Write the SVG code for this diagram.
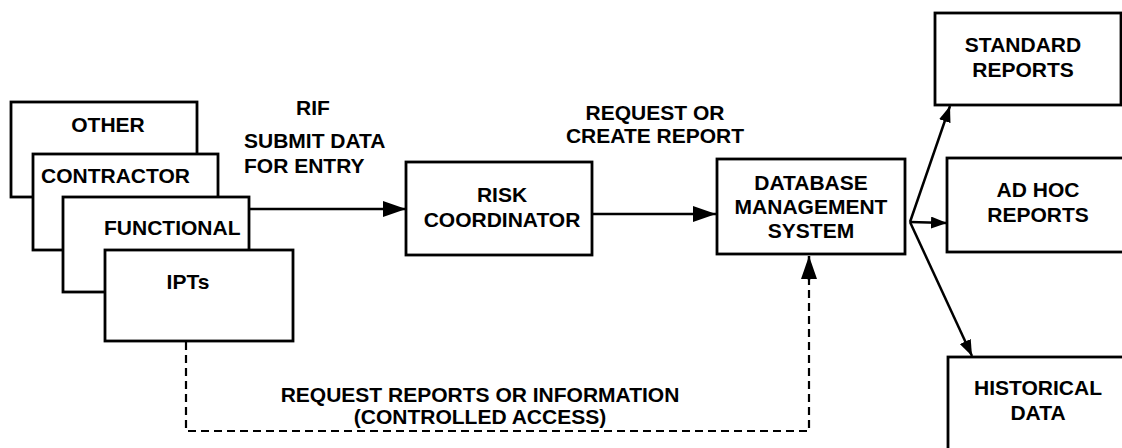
<svg xmlns="http://www.w3.org/2000/svg" width="1122" height="448" viewBox="0 0 1122 448">
<style>
.box{fill:#fff;stroke:#000;stroke-width:2.8}
.t{font-family:"Liberation Sans",Arial,sans-serif;font-weight:bold;font-size:21px;fill:#000}
.c{text-anchor:middle}
.ln{fill:none;stroke:#000;stroke-width:2.5}
.dash{fill:none;stroke:#000;stroke-width:2.2;stroke-dasharray:8 5}
</style>
<defs>
<marker id="big" markerWidth="23" markerHeight="16" refX="23" refY="8" orient="auto" markerUnits="userSpaceOnUse">
<path d="M0,0 L23,8 L0,16 Z" fill="#000"/>
</marker>
<marker id="small" markerWidth="16" markerHeight="12" refX="16" refY="6" orient="auto" markerUnits="userSpaceOnUse">
<path d="M0,0 L16,6 L0,12 Z" fill="#000"/>
</marker>
</defs>
<g id="connectors">
<line class="ln" x1="249" y1="209" x2="406" y2="209" marker-end="url(#big)"/>
<line class="ln" x1="592" y1="214" x2="716" y2="214" marker-end="url(#big)"/>
<line class="ln" x1="910" y1="222" x2="950" y2="106" marker-end="url(#small)"/>
<line class="ln" x1="910" y1="222" x2="947" y2="223" marker-end="url(#small)"/>
<line class="ln" x1="910" y1="222" x2="972" y2="356" marker-end="url(#small)"/>
<polyline class="dash" points="186,342 186,431 809,431 809,278"/>
<line class="ln" x1="809" y1="280" x2="809" y2="256" marker-end="url(#big)"/>
</g>
<g id="other"><rect class="box" x="11" y="102" width="186" height="95"/><text class="t c" x="108" y="132">OTHER</text></g>
<g id="contractor"><rect class="box" x="33" y="154" width="185" height="96"/><text class="t" x="41" y="183">CONTRACTOR</text></g>
<g id="functional"><rect class="box" x="63" y="197" width="186" height="95"/><text class="t" x="104" y="235">FUNCTIONAL</text></g>
<g id="ipts"><rect class="box" x="105" y="250" width="188" height="91"/><text class="t c" x="188" y="289">IPTs</text></g>
<g id="risk"><rect class="box" x="406" y="162" width="186" height="93"/><text class="t c" x="502" y="202">RISK</text><text class="t c" x="502" y="227">COORDINATOR</text></g>
<g id="dbms"><rect class="box" x="717" y="159" width="188" height="95"/><text class="t c" x="811" y="190">DATABASE</text><text class="t c" x="811" y="214">MANAGEMENT</text><text class="t c" x="811" y="238">SYSTEM</text></g>
<g id="standard"><rect class="box" x="935" y="13" width="186" height="92"/><text class="t c" x="1023" y="52">STANDARD</text><text class="t c" x="1023" y="77">REPORTS</text></g>
<g id="adhoc"><rect class="box" x="947" y="158" width="180" height="94"/><text class="t c" x="1038" y="197">AD HOC</text><text class="t c" x="1038" y="222">REPORTS</text></g>
<g id="historical"><rect class="box" x="948" y="357" width="180" height="100"/><text class="t c" x="1038" y="395">HISTORICAL</text><text class="t c" x="1038" y="420">DATA</text></g>
<g id="labels">
<text class="t c" x="313" y="115">RIF</text>
<text class="t" x="244" y="148">SUBMIT DATA</text>
<text class="t" x="244" y="173">FOR ENTRY</text>
<text class="t c" x="655" y="120">REQUEST OR</text>
<text class="t c" x="655" y="143">CREATE REPORT</text>
<text class="t c" x="480" y="402">REQUEST REPORTS OR INFORMATION</text>
<text class="t c" x="480" y="424">(CONTROLLED ACCESS)</text>
</g>
</svg>
